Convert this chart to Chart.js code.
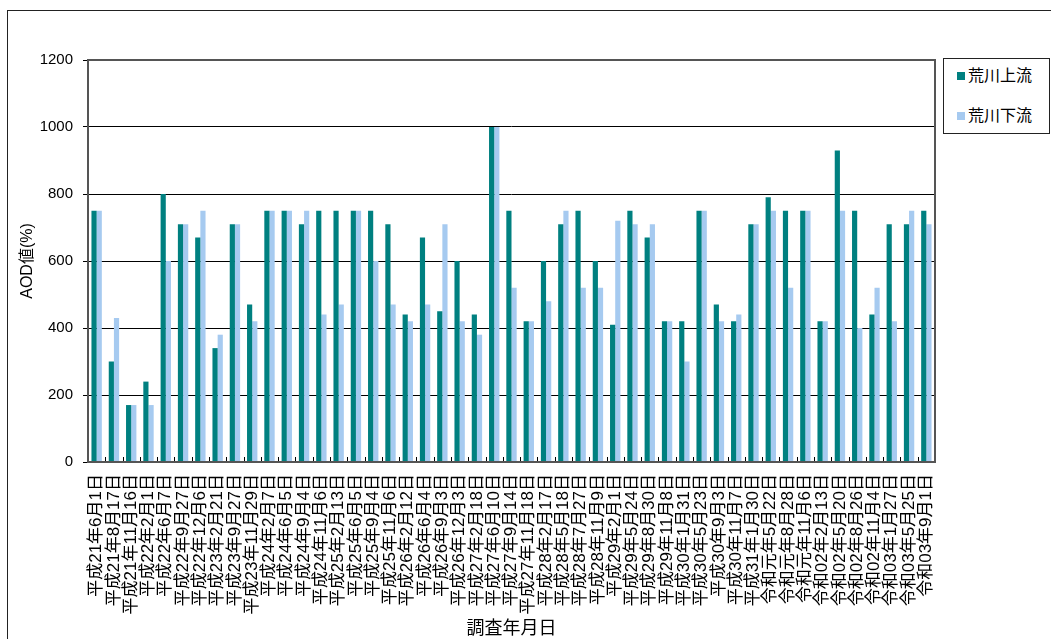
<!DOCTYPE html>
<html lang="ja">
<head>
<meta charset="utf-8">
<script src="https://cdn.jsdelivr.net/npm/chart.js@4"></script>
<style>
    body { margin: 0; background: #fff; overflow: hidden; }
    #wrap { position: relative; width: 1051px; height: 639px; }
    #frame { position: absolute; left: 7px; top: 10px; width: 1100px; height: 700px; border: 1px solid #222; }
    #aodChart { position: absolute; left: 0; top: 0; }
    #legendBox {
        position: absolute; left: 943px; top: 58px; width: 105px; height: 74px;
        border: 1px solid #222; background: #fff;
        font-family: "Liberation Sans", "Noto Sans CJK JP", sans-serif; font-size: 16px; color: #000;
    }
    .item { position: absolute; left: 13px; line-height: 18px; }
    .item span { display: inline-block; width: 8px; height: 8px; margin-right: 3px; vertical-align: 1px; }
</style>
</head>
<body>
<div id="wrap">
    <div id="frame"></div>
    <canvas id="aodChart" width="1051" height="639"></canvas>
    <div id="legendBox">
        <div class="item" style="top:8px"><span style="background:#008080"></span>荒川上流</div>
        <div class="item" style="top:48px"><span style="background:#a6caf0"></span>荒川下流</div>
    </div>
</div>
<script>
const dates = [
    "平成21年6月1日", "平成21年8月17日", "平成21年11月16日", "平成22年2月1日", "平成22年6月7日",
    "平成22年9月27日", "平成22年12月6日", "平成23年2月21日", "平成23年9月27日", "平成23年11月29日",
    "平成24年2月7日", "平成24年6月5日", "平成24年9月4日", "平成24年11月6日", "平成25年2月13日",
    "平成25年6月5日", "平成25年9月4日", "平成25年11月6日", "平成26年2月12日", "平成26年6月4日",
    "平成26年9月3日", "平成26年12月3日", "平成27年2月18日", "平成27年6月10日", "平成27年9月14日",
    "平成27年11月18日", "平成28年2月17日", "平成28年5月18日", "平成28年7月27日", "平成28年11月9日",
    "平成29年2月1日", "平成29年5月24日", "平成29年8月30日", "平成29年11月8日", "平成30年1月31日",
    "平成30年5月23日", "平成30年9月3日", "平成30年11月7日", "平成31年1月30日", "令和元年5月22日",
    "令和元年8月28日", "令和元年11月6日", "令和02年2月13日", "令和02年5月20日", "令和02年8月26日",
    "令和02年11月4日", "令和03年1月27日", "令和03年5月25日", "令和03年9月1日"
];

const upstream = [
    750, 300, 170, 240, 800, 710, 670, 340, 710, 470,
    750, 750, 710, 750, 750, 750, 750, 710, 440, 670,
    450, 600, 440, 1000, 750, 420, 600, 710, 750, 600,
    410, 750, 670, 420, 420, 750, 470, 420, 710, 790,
    750, 750, 420, 930, 750, 440, 710, 710, 750
];

const downstream = [
    750, 430, 170, 170, 600, 710, 750, 380, 710, 420,
    750, 750, 750, 440, 470, 750, 600, 470, 420, 470,
    710, 420, 380, 1000, 520, 420, 480, 750, 520, 520,
    720, 710, 710, 420, 300, 750, 420, 440, 710, 750,
    520, 750, 420, 750, 400, 520, 420, 750, 710
];

const yTicks = [0, 200, 400, 600, 800, 1000, 1200];

// plot frame + little category marks on the bottom edge
const frameLines = {
    id: "frameLines",
    afterDatasetsDraw(chart) {
        const { ctx, chartArea } = chart;
        const n = dates.length;
        const step = (chartArea.right - chartArea.left) / n;
        ctx.save();
        ctx.strokeStyle = "#000";
        ctx.lineWidth = 1;
        ctx.beginPath();
        for (let i = 1; i < n; i++) {
            const x = Math.round(chartArea.left + i * step) + 0.5;
            ctx.moveTo(x, chartArea.bottom);
            ctx.lineTo(x, chartArea.bottom - 5);
        }
        ctx.stroke();
        ctx.strokeStyle = "#555";
        ctx.lineWidth = 2;
        ctx.strokeRect(chartArea.left, chartArea.top, chartArea.right - chartArea.left, chartArea.bottom - chartArea.top);
        ctx.restore();
    }
};

new Chart(document.getElementById("aodChart"), {
    type: "bar",
    data: {
        labels: dates,
        datasets: [
            {
                label: "荒川上流",
                data: upstream,
                backgroundColor: "#008080",
                categoryPercentage: 0.6,
                barPercentage: 1.0
            },
            {
                label: "荒川下流",
                data: downstream,
                backgroundColor: "#a6caf0",
                categoryPercentage: 0.6,
                barPercentage: 1.0
            }
        ]
    },
    options: {
        responsive: false,
        animation: false,
        devicePixelRatio: 1,
        layout: {
            padding: { top: 60, right: 116, left: 0, bottom: 0 }
        },
        plugins: {
            legend: { display: false },
            tooltip: { enabled: false }
        },
        scales: {
            x: {
                afterFit(scale) { scale.height = 177; },
                grid: { display: false, drawTicks: false },
                border: { display: false },
                ticks: {
                    autoSkip: false,
                    minRotation: 90,
                    maxRotation: 90,
                    padding: 12,
                    color: "#000",
                    font: { family: "'Liberation Sans', 'Noto Sans CJK JP', sans-serif", size: 17 }
                },
                title: {
                    display: true,
                    text: "調査年月日",
                    color: "#000",
                    padding: { top: 0, bottom: 1 },
                    font: { family: "'Noto Sans CJK JP', sans-serif", size: 18 }
                }
            },
            y: {
                min: 0,
                max: 1200,
                afterFit(scale) { scale.width = 88; },
                afterBuildTicks(scale) { scale.ticks = yTicks.map(v => ({ value: v })); },
                grid: { color: "#000", lineWidth: 1, tickLength: 5, tickColor: "#000" },
                border: { display: false },
                ticks: {
                    padding: 10,
                    color: "#000",
                    callback: (v) => String(v),
                    font: { family: "'Liberation Sans', sans-serif", size: 15 }
                },
                title: {
                    display: true,
                    text: "AOD値(%)",
                    color: "#000",
                    padding: { top: 18, bottom: 0 },
                    font: { family: "'Liberation Sans', 'Noto Sans CJK JP', sans-serif", size: 16 }
                }
            }
        }
    },
    plugins: [frameLines]
});
</script>
</body>
</html>
